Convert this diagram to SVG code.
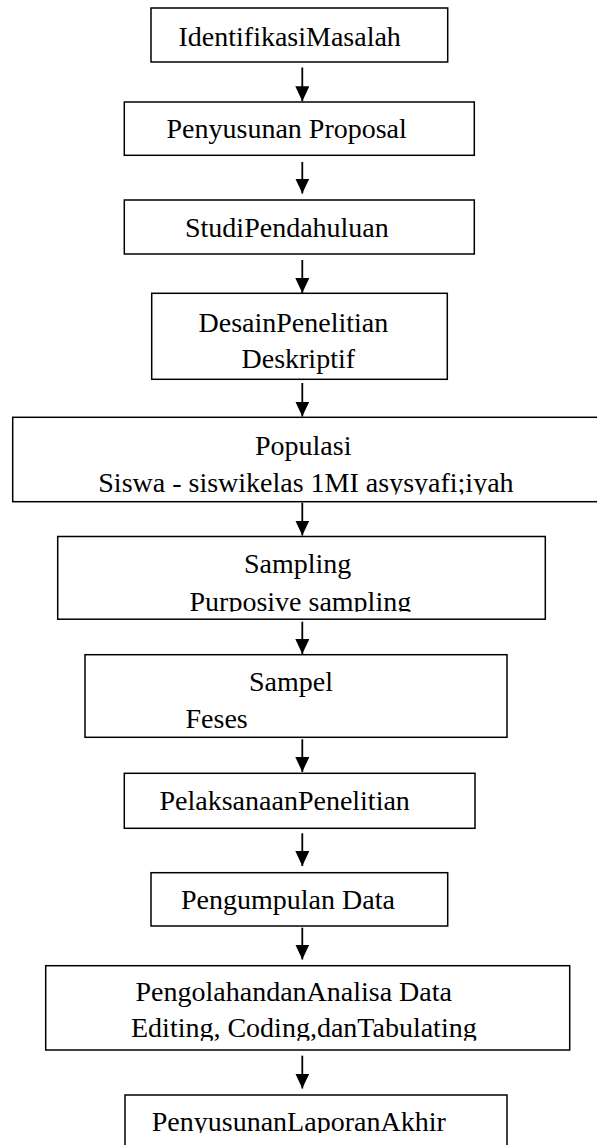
<svg xmlns="http://www.w3.org/2000/svg" width="597" height="1145" viewBox="0 0 597 1145">
<style>
.box{fill:#fff;stroke:#000;stroke-width:1.5}
.t{font-family:"Liberation Serif","Times New Roman",serif;font-size:28px;fill:#000}
.ar{stroke:#000;stroke-width:1.8;fill:none}
</style>
<defs>
<marker id="ah" markerUnits="userSpaceOnUse" markerWidth="15" markerHeight="14" viewBox="0 0 15 14" refX="15" refY="7" orient="auto">
<path d="M0,0 L15,7 L0,14 Z" fill="#000"/>
</marker>
<clipPath id="c5"><rect x="0" y="417" width="597" height="77.5"/></clipPath>
<clipPath id="c6"><rect x="0" y="537" width="597" height="74.7"/></clipPath>
<clipPath id="c7"><rect x="0" y="655" width="597" height="75"/></clipPath>
<clipPath id="c10"><rect x="0" y="966" width="597" height="74.7"/></clipPath>
<clipPath id="c11"><rect x="0" y="1095" width="597" height="38"/></clipPath>
</defs>
<rect width="597" height="1145" fill="#fff"/>
<g id="connectors">
<line class="ar" x1="302.3" y1="67.5" x2="302.3" y2="101.3" marker-end="url(#ah)"/>
<line class="ar" x1="302.3" y1="162" x2="302.3" y2="193.5" marker-end="url(#ah)"/>
<line class="ar" x1="302.3" y1="260" x2="302.3" y2="293" marker-end="url(#ah)"/>
<line class="ar" x1="302.3" y1="383" x2="302.3" y2="416.5" marker-end="url(#ah)"/>
<line class="ar" x1="302.3" y1="502.7" x2="302.3" y2="535.5" marker-end="url(#ah)"/>
<line class="ar" x1="302.3" y1="621.7" x2="302.3" y2="654" marker-end="url(#ah)"/>
<line class="ar" x1="302.3" y1="739.3" x2="302.3" y2="772" marker-end="url(#ah)"/>
<line class="ar" x1="302.3" y1="833.3" x2="302.3" y2="866" marker-end="url(#ah)"/>
<line class="ar" x1="302.3" y1="927.7" x2="302.3" y2="959.5" marker-end="url(#ah)"/>
<line class="ar" x1="302.3" y1="1055.7" x2="302.3" y2="1088.5" marker-end="url(#ah)"/>
</g>
<g id="n1">
<rect class="box" x="151" y="8" width="296.7" height="54"/>
<text class="t" x="178.5" y="45.5">IdentifikasiMasalah</text>
</g>
<g id="n2">
<rect class="box" x="124.3" y="102" width="350" height="53.3"/>
<text class="t" x="166.5" y="138">Penyusunan Proposal</text>
</g>
<g id="n3">
<rect class="box" x="124.3" y="200" width="350" height="54"/>
<text class="t" x="185" y="237">StudiPendahuluan</text>
</g>
<g id="n4">
<rect class="box" x="151.7" y="293.3" width="295.6" height="86"/>
<text class="t" x="198.5" y="331.5">DesainPenelitian</text>
<text class="t" x="241.5" y="368">Deskriptif</text>
</g>
<g id="n5">
<rect class="box" x="12.7" y="417.3" width="610" height="84.4"/>
<g clip-path="url(#c5)">
<text class="t" x="255" y="455">Populasi</text>
<text class="t" x="98.3" y="492">Siswa - siswikelas 1MI asysyafi;iyah</text>
</g>
</g>
<g id="n6">
<rect class="box" x="57.7" y="536.5" width="487.6" height="82.7"/>
<g clip-path="url(#c6)">
<text class="t" x="244" y="573.3">Sampling</text>
<text class="t" x="189.5" y="610.5">Purposive sampling</text>
</g>
</g>
<g id="n7">
<rect class="box" x="85" y="654.7" width="422" height="82.6"/>
<g clip-path="url(#c7)">
<text class="t" x="249" y="690.7">Sampel</text>
<text class="t" x="185.5" y="727.7">Feses</text>
</g>
</g>
<g id="n8">
<rect class="box" x="124.3" y="773.3" width="350.7" height="55"/>
<text class="t" x="159.5" y="810">PelaksanaanPenelitian</text>
</g>
<g id="n9">
<rect class="box" x="151" y="872.7" width="296.7" height="53.3"/>
<text class="t" x="181" y="909.3">Pengumpulan Data</text>
</g>
<g id="n10">
<rect class="box" x="45.7" y="965.7" width="524" height="84.3"/>
<g clip-path="url(#c10)">
<text class="t" x="135.5" y="1000.7">PengolahandanAnalisa Data</text>
<text class="t" x="131" y="1037.3">Editing, Coding,danTabulating</text>
</g>
</g>
<g id="n11">
<rect class="box" x="125" y="1095" width="382" height="70"/>
<g clip-path="url(#c11)">
<text class="t" x="151.8" y="1130.5">PenyusunanLaporanAkhir</text>
</g>
</g>
</svg>
